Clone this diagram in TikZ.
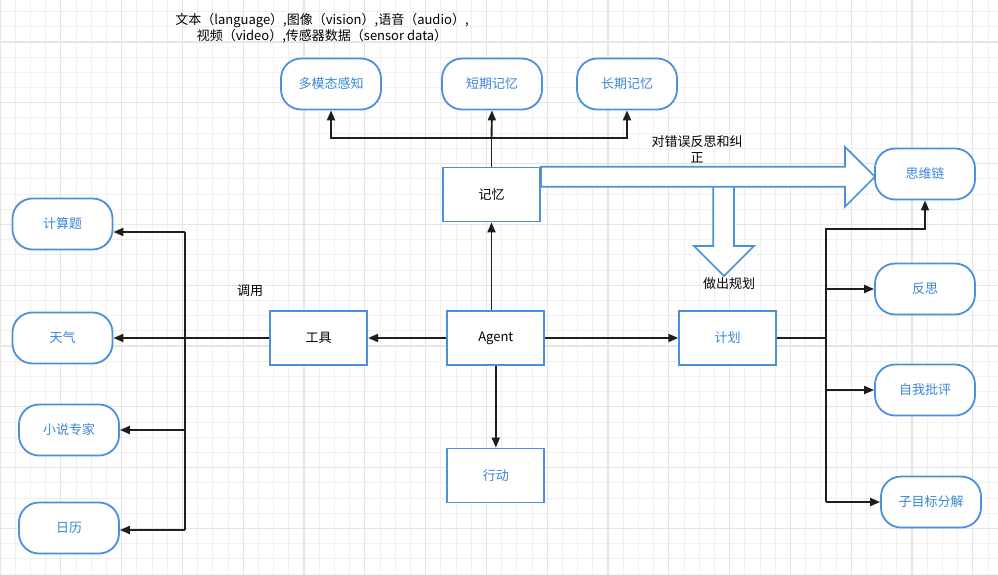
\documentclass[tikz,border=0pt]{standalone}
\usepackage{fontspec}
\setmainfont{Noto Sans CJK SC}
\usetikzlibrary{arrows.meta}
\definecolor{bord}{RGB}{74,144,220}
\definecolor{btext}{RGB}{58,134,214}
\definecolor{linec}{RGB}{30,30,30}
\definecolor{gminor}{RGB}{240,240,240}
\definecolor{gmajor}{RGB}{229,229,229}
\tikzset{
  txt/.style={font=\fontsize{13}{16}\selectfont, inner sep=0pt},
  rbox/.style={draw=bord, line width=1.8pt, fill=white, rounded corners=20pt,
    minimum width=100pt, minimum height=51pt, font=\fontsize{13}{16}\selectfont, text=btext},
  sbox/.style={draw=bord, line width=1.8pt, fill=white, rectangle,
    minimum width=97pt, minimum height=54pt, font=\fontsize{13}{16}\selectfont},
  wire/.style={draw=linec, line width=1.9pt},
  conn/.style={wire, -{Triangle[length=10pt,width=8pt]}},
  blockarrow/.style={draw=bord, line width=1.7pt, fill=white, line join=miter},
}
\begin{document}
\begin{tikzpicture}[x=1pt,y=-1pt]
\useasboundingbox (0,0) rectangle (998,575);
\fill[white] (0,0) rectangle (998,575);
% grid
\foreach \i in {0,...,66} {
  \draw[gminor, line width=1pt] ({15.2*\i},0) -- ({15.2*\i},575);
}
\foreach \j in {0,...,38} {
  \draw[gminor, line width=1pt] (0,{11.6+15.2*\j}) -- (998,{11.6+15.2*\j});
}
\foreach \i in {0,...,16} {
  \draw[gmajor, line width=1.3pt] ({60.8*\i},0) -- ({60.8*\i},575);
}
\foreach \j in {0,...,9} {
  \draw[gmajor, line width=1.3pt] (0,{42+60.8*\j}) -- (998,{42+60.8*\j});
}

% block arrows
\draw[blockarrow] (713.3,186.7) -- (713.3,246) -- (694,246) -- (724,276) -- (754,246) -- (734,246) -- (734,186.7);
\draw[blockarrow] (541,166.7) -- (845,166.7) -- (845,147) -- (875,176.7) -- (845,206.7) -- (845,186.7) -- (541,186.7) -- cycle;

% nodes
\node[rbox] (mm) at (331,84) {多模态感知};
\node[rbox] (stm) at (492,84) {短期记忆};
\node[rbox] (ltm) at (627,84) {长期记忆};
\node[sbox] (mem) at (491.5,194.5) {记忆};
\node[sbox] (agent) at (495.8,338) {Agent};
\node[sbox, text=btext] (act) at (495.8,475.5) {行动};
\node[sbox] (tool) at (318.7,338) {工具};
\node[sbox, text=btext] (plan) at (727.7,338) {计划};

\node[rbox] (cot) at (925,174) {思维链};
\node[rbox] (refl) at (925,289) {反思};
\node[rbox] (crit) at (925,390) {自我批评};
\node[rbox] (sub) at (931,502) {子目标分解};

\node[rbox] (calc) at (62.5,224) {计算题};
\node[rbox] (wea) at (62.5,338) {天气};
\node[rbox] (nov) at (69,430) {小说专家};
\node[rbox] (cal) at (69,528) {日历};

% labels
\node[txt, align=center] (toptext) at (322,28.5) {文本（language）,图像（vision）,语音（audio）,\\视频（video）,传感器数据（sensor data）};
\node[txt] (lbltool) at (250,291) {调用};
\node[txt, align=center] (lblfix) at (697,149) {对错误反思和纠\\正};
\node[txt] (lblplan) at (729,284) {做出规划};

% connectors: memory
\draw[conn] (mem.south |- agent.north) -- (mem.south);
\coordinate (mj) at (491.5,138);
\draw[wire] (mem.north) -- (mj);
\draw[conn] (mj) -- (stm.south);
\draw[conn] (mj) -| (mm.south);
\draw[conn] (mj) -| (ltm.south);

% agent to action
\draw[conn] (agent.south) -- (act.north);

% tools
\draw[conn] (agent.west) -- (tool.east);
\coordinate (tl) at (185,338);
\coordinate (tt) at (185,232);
\coordinate (tb) at (185,530);
\draw[wire] (tool.west) -- (tl);
\draw[wire] (tt) -- (tb);
\draw[conn] (tl) -- (wea.east);
\draw[conn] (tt) -- (calc.east |- tt);
\draw[conn] (nov.east -| tt) -- (nov.east);
\draw[conn] (tb) -- (cal.east |- tb);

% plan
\draw[conn] (agent.east) -- (plan.west);
\coordinate (pr) at (826,338);
\coordinate (rtop) at (826,229);
\coordinate (rb1) at (826,289);
\coordinate (rb3) at (826,502);
\draw[wire] (plan.east) -- (pr);
\draw[conn] (pr) -- (rtop) -| (cot.south);
\draw[wire] (rb1) -- (rb3);
\draw[conn] (rb1) -- (refl.west);
\draw[conn] (crit.west -| rb1) -- (crit.west);
\draw[conn] (rb3) -- (sub.west);
\end{tikzpicture}
\end{document}
